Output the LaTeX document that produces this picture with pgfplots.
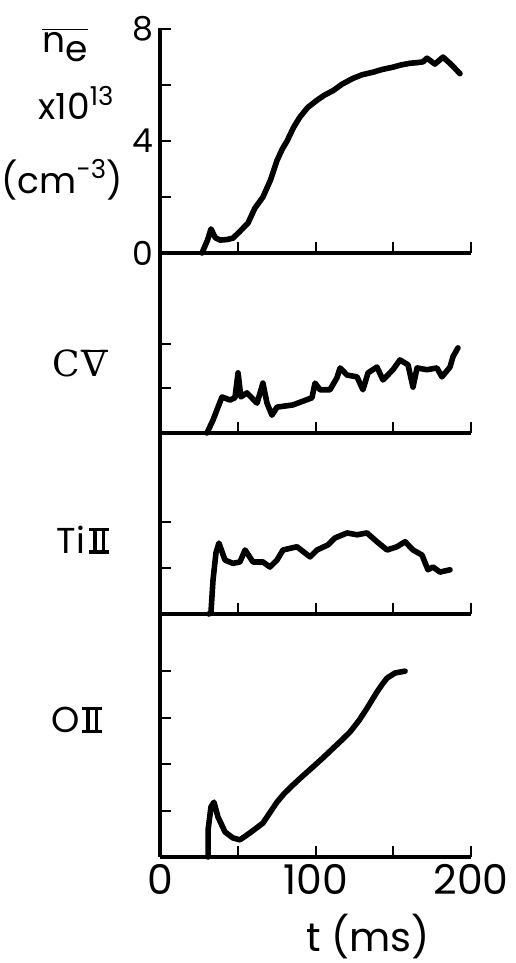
\documentclass[border=0pt]{standalone}
\usepackage{fontspec}
\usepackage{pgfplots}
\pgfplotsset{compat=1.18}
\setmainfont{Poppins}
\newfontfamily\rnserif{DejaVu Serif}

% Roman numerals with bars, as in the figure
\newcommand\RomII{\leavevmode\vbox{\hrule width 0.56em height 0.09em
  \hbox to 0.56em{\hskip0.12em\vrule height 0.54em width 0.09em\hfil
  \vrule height 0.54em width 0.09em\hskip0.12em}\hrule width 0.56em height 0.09em}}
\newcommand\RomV{\setbox0\hbox{\rnserif V}\leavevmode
  \vbox{\hrule width\wd0 height 0.07em\kern-0.07em\box0}}

% one panel of the stack: left and bottom lines only, ticks pointing in
\pgfplotsset{
  panel/.style={
    scale only axis, width=155.5pt,
    xmin=0, xmax=200, ymin=0,
    axis lines=left, axis line style={-, line width=1.6pt},
    tick align=inside, major tick length=5.5pt,
    tick style={black, line width=1pt},
    xtick={50,100,150,200}, xticklabels={},
    yticklabels={},
    /pgf/number format/assume math mode=true,
    tick label style={font=\fontsize{16.5}{20}\selectfont},
    clip=false,
  },
  curve/.style={black, no marks, line width=2.8pt, line join=round, line cap=round},
}

\begin{document}
\begin{tikzpicture}
\useasboundingbox (0,0) rectangle (257.5pt,481.5pt);

% n_e
\begin{axis}[panel, at={(80pt,355pt)}, anchor=south west,
  height=112.5pt, ymax=8.04,
  ytick={0,2,4,6,8}, yticklabels={0,,4,,8}]
\addplot[curve] coordinates {
  (27.0,0) (30.5,0.45) (32.8,0.86) (35.5,0.55) (38.6,0.46) (43,0.48)
  (46.9,0.53) (51,0.75) (56.6,1.07) (61,1.6) (66.2,2.0) (71,2.6)
  (75.2,3.3) (78.5,3.7) (81.7,4.0) (86,4.5) (90.0,4.86) (95,5.2) (101,5.46)
  (106,5.65) (111.3,5.8) (117,6.03) (124.1,6.24)
  (130,6.37) (137,6.46) (143,6.56) (149.8,6.64) (155,6.72) (160.8,6.78)
  (165,6.8) (169.1,6.83) (171.7,6.96)
  (176.8,6.75) (182,7.0) (187,6.75) (192.9,6.41)
};
\end{axis}

% C V
\begin{axis}[panel, at={(80pt,265pt)}, anchor=south west,
  height=90pt, ymax=4.04, ytick={1,2}]
\addplot[curve] coordinates {
  (30.2,0) (34.1,0.29) (37.3,0.58) (39.9,0.81) (45,0.74) (48.2,0.79)
  (50.2,1.35) (52,0.81) (55.9,0.9) (62.4,0.67) (66.2,1.12) (68.8,0.67)
  (72,0.4) (75.2,0.58) (85.5,0.63) (97.7,0.79) (99.7,1.12) (102.9,0.97)
  (109.3,0.97) (113.8,1.24) (115.8,1.46) (120.3,1.3) (126.7,1.26)
  (130.5,0.97) (133.8,1.35) (139.5,1.48) (143.4,1.19) (149.8,1.42)
  (154.3,1.64) (159.5,1.53) (162.7,1.03) (165.3,1.46) (171.7,1.42)
  (178.1,1.46) (181.3,1.26) (186.5,1.48) (188.4,1.71) (191.6,1.91)
};
\end{axis}

% Ti II
\begin{axis}[panel, at={(80pt,174.5pt)}, anchor=south west,
  height=90.5pt, ymax=3.93, ytick={1,2}]
\addplot[curve] coordinates {
  (31.5,0) (32.8,0.04) (34.1,0.74) (36,1.33) (37.9,1.54) (41.8,1.17)
  (46.9,1.1) (51.4,1.13) (54.7,1.39) (59.8,1.13) (66.2,1.13) (70.7,1.02)
  (75.2,1.17) (79.1,1.39) (88.1,1.46) (96.5,1.24) (101,1.39) (108,1.5)
  (112.5,1.65) (120.3,1.76) (126.7,1.72) (133.1,1.76) (139.5,1.57)
  (146,1.39) (152.4,1.46) (157.6,1.57) (162.7,1.39) (168.5,1.28)
  (172.3,0.96) (175.6,1.02) (180,0.91) (186.5,0.96)
};
\end{axis}

% O II
\begin{axis}[panel, at={(80pt,53pt)}, anchor=south west,
  height=121.5pt, ymax=5.23, ytick={1,2,3,4},
  xtick={0,50,100,150,200}, xticklabels={0,,100,,200},
  xticklabel style={font=\fontsize{20.5}{24}\selectfont}]
\addplot[curve] coordinates {
  (30.9,0) (30.9,0.58) (32.8,1.08) (34.7,1.18) (37.3,0.86)
  (41.8,0.54) (46.9,0.41) (51.4,0.37) (57.9,0.52) (66.2,0.73) (70,0.92)
  (75.2,1.18) (80,1.37)
  (85.5,1.55) (92,1.75) (98.4,1.94) (105,2.14) (111.3,2.34) (117,2.52)
  (122.2,2.69) (128,2.94) (133.1,3.2)
  (139.5,3.55) (143,3.72) (146,3.85) (151.1,3.96) (157.6,4.0)
};
\end{axis}

\begin{scope}[every node/.style={font=\fontsize{18}{21}\selectfont}]
\node at (32.5pt,459pt) {$\overline{\mbox{n\raisebox{-0.45ex}{e}}}$};
\node at (38pt,430pt) {x10\raisebox{0.75ex}{\fontsize{13}{15}\selectfont 13}};
\node at (31pt,391.5pt) {(cm\raisebox{0.75ex}{\fontsize{13}{15}\selectfont -3})};
\node at (40pt,300pt) {{\rnserif C}\kern1pt\RomV};
\node at (41.5pt,211.5pt) {Ti\kern2pt\RomII};
\node at (38.5pt,121.5pt) {O\kern1pt\RomII};
\node[font=\fontsize{20}{24}\selectfont] at (184pt,13pt) {t (ms)};
\end{scope}
\end{tikzpicture}
\end{document}
